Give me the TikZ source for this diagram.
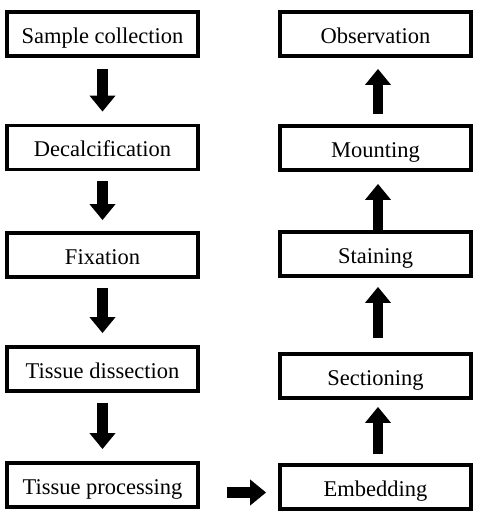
\documentclass[tikz,border=0pt]{standalone}
\usepackage{fontspec}
\setmainfont{Liberation Serif}
\usetikzlibrary{arrows.meta}

\begin{document}
\begin{tikzpicture}[x=1pt,y=-1pt,
    stepbox/.style={draw,line width=3.8pt,minimum width=191pt,minimum height=44pt,inner sep=0pt,text height=19pt,text depth=1pt,font=\fontsize{22.5}{26}\selectfont},
    flow/.style={line width=10.5pt,-{Triangle[width=25pt,length=16pt]}}]
    \useasboundingbox (0,0) rectangle (477,517);

    \node[stepbox] (sample) at (102.5,34) {Sample collection};
    \node[stepbox] (decal) at (102.5,147.5) {Decalcification};
    \node[stepbox] (fix) at (102.5,255) {Fixation};
    \node[stepbox] (dissect) at (102.5,369) {Tissue dissection};
    \node[stepbox] (procs) at (102.5,485) {Tissue processing};

    \node[stepbox] (embed) at (375.5,487) {Embedding};
    \node[stepbox] (section) at (375.5,376) {Sectioning};
    \node[stepbox] (stain) at (375.5,254) {Staining};
    \node[stepbox] (mount) at (375.5,148) {Mounting};
    \node[stepbox] (observ) at (375.5,34) {Observation};

    \draw[flow,shorten <=11pt,shorten >=12pt] (sample) -- (decal);
    \draw[flow,shorten <=10pt,shorten >=11pt] (decal) -- (fix);
    \draw[flow,shorten <=9pt,shorten >=12pt] (fix) -- (dissect);
    \draw[flow,shorten <=10pt,shorten >=12pt] (dissect) -- (procs);

    \draw[flow,shorten <=27pt,shorten >=12pt] ([yshift=-7.5pt]procs.east) -- ([yshift=-5.5pt]embed.west);

    \draw[flow,shorten <=9pt,shorten >=7pt] ([xshift=2.5pt]embed.north) -- ([xshift=2.5pt]section.south);
    \draw[flow,shorten <=14pt,shorten >=9pt] ([xshift=2.5pt]section.north) -- ([xshift=2.5pt]stain.south);
    \draw[flow,shorten <=0pt,shorten >=12pt] ([xshift=2.5pt]stain.north) -- ([xshift=2.5pt]mount.south);
    \draw[flow,shorten <=10pt,shorten >=11pt] ([xshift=2.5pt]mount.north) -- ([xshift=2.5pt]observ.south);
  \end{tikzpicture}
\end{document}
